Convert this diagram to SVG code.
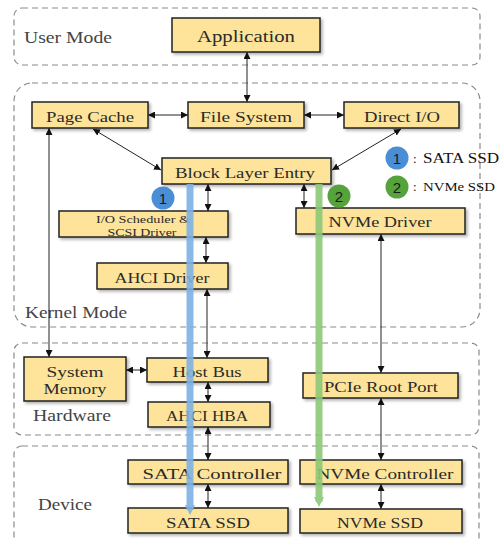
<svg xmlns="http://www.w3.org/2000/svg" width="499" height="539" viewBox="0 0 499 539">
  <style>
    .region { fill: none; stroke: #8a8a8a; stroke-width: 1.2; stroke-dasharray: 6 4; }
    .box { fill: #fde49a; stroke: #222; stroke-width: 1.5; filter: url(#shadow); }
    .lbl { font-family: "Liberation Serif", "DejaVu Serif", serif; fill: #2a2a2a; text-anchor: middle; }
    .rlbl { font-family: "Liberation Serif", "DejaVu Serif", serif; fill: #444; }
    .conn { stroke: #222; stroke-width: 1; fill: none; marker-start: url(#ah); marker-end: url(#ah); }
    .path1 { stroke: #7fb2e5; stroke-width: 7; opacity: 0.9; fill: none; }
    .path2 { stroke: #8dc878; stroke-width: 7; opacity: 0.9; fill: none; }
    .num { font-family: "Liberation Sans", Arial, sans-serif; font-size: 15px; fill: #1a1a1a; text-anchor: middle; }
    .leg { font-family: "Liberation Serif", "DejaVu Serif", serif; fill: #111; }
  </style>
  <defs>
    <filter id="shadow" x="-10%" y="-20%" width="130%" height="160%">
      <feDropShadow dx="2" dy="2" stdDeviation="1.5" flood-color="#000" flood-opacity="0.3"/>
    </filter>
    <marker id="ah" viewBox="0 0 10 10" refX="10" refY="5" markerWidth="7" markerHeight="7" markerUnits="userSpaceOnUse" orient="auto-start-reverse">
      <path d="M0,0 L10,5 L0,10 z" fill="#111"/>
    </marker>
    <marker id="ahBlue" viewBox="0 0 10 10" refX="5" refY="5" markerWidth="10" markerHeight="10" markerUnits="userSpaceOnUse" orient="auto">
      <path d="M0,0 L10,5 L0,10 z" fill="#7fb2e5"/>
    </marker>
    <marker id="ahGreen" viewBox="0 0 10 10" refX="5" refY="5" markerWidth="10" markerHeight="10" markerUnits="userSpaceOnUse" orient="auto">
      <path d="M0,0 L10,5 L0,10 z" fill="#8dc878"/>
    </marker>
  </defs>

  <rect width="499" height="539" fill="#fff"/>

  <!-- layer regions -->
  <g id="regions">
    <rect class="region" x="14" y="8" width="466" height="57" rx="8"/>
    <text class="rlbl" x="24" y="43" font-size="16" textLength="88" lengthAdjust="spacingAndGlyphs">User Mode</text>
    <rect class="region" x="14" y="83" width="466" height="244" rx="18"/>
    <text class="rlbl" x="25" y="318" font-size="16" textLength="102" lengthAdjust="spacingAndGlyphs">Kernel Mode</text>
    <rect class="region" x="14" y="343" width="465" height="92" rx="8"/>
    <text class="rlbl" x="33" y="421" font-size="16" textLength="78" lengthAdjust="spacingAndGlyphs">Hardware</text>
    <rect class="region" x="14" y="446" width="465" height="100" rx="8"/>
    <text class="rlbl" x="38" y="510" font-size="16" textLength="54" lengthAdjust="spacingAndGlyphs">Device</text>
  </g>

  <!-- connectors -->
  <g id="connectors">
    <line class="conn" x1="247" y1="52" x2="247" y2="102"/>
    <line class="conn" x1="148" y1="115" x2="188" y2="115"/>
    <line class="conn" x1="304" y1="115" x2="344" y2="115"/>
    <line class="conn" x1="93" y1="129" x2="161" y2="170"/>
    <line class="conn" x1="401" y1="129" x2="332" y2="170"/>
    <line class="conn" x1="49" y1="128" x2="49" y2="357"/>
    <line class="conn" x1="208" y1="184" x2="208" y2="211"/>
    <line class="conn" x1="206" y1="237" x2="206" y2="263"/>
    <line class="conn" x1="207" y1="289" x2="207" y2="358"/>
    <line class="conn" x1="304" y1="184" x2="304" y2="208"/>
    <line class="conn" x1="381" y1="234" x2="381" y2="373"/>
    <line class="conn" x1="126" y1="370" x2="147" y2="370"/>
    <line class="conn" x1="208" y1="382" x2="208" y2="402"/>
    <line class="conn" x1="208" y1="427" x2="208" y2="460"/>
    <line class="conn" x1="208" y1="484" x2="208" y2="508"/>
    <line class="conn" x1="381" y1="398" x2="381" y2="460"/>
    <line class="conn" x1="381" y1="484" x2="381" y2="509"/>
  </g>

  <!-- nodes -->
  <g id="application">
    <rect class="box" x="172" y="18" width="148" height="34"/>
    <text class="lbl" x="246" y="42" font-size="17" textLength="98" lengthAdjust="spacingAndGlyphs">Application</text>
  </g>
  <g id="page-cache">
    <rect class="box" x="32" y="102" width="116" height="26"/>
    <text class="lbl" x="90" y="122" font-size="15" textLength="88" lengthAdjust="spacingAndGlyphs">Page Cache</text>
  </g>
  <g id="file-system">
    <rect class="box" x="188" y="102" width="116" height="26"/>
    <text class="lbl" x="246" y="122" font-size="15" textLength="92" lengthAdjust="spacingAndGlyphs">File System</text>
  </g>
  <g id="direct-io">
    <rect class="box" x="344" y="102" width="115" height="26"/>
    <text class="lbl" x="402" y="122" font-size="15" textLength="76" lengthAdjust="spacingAndGlyphs">Direct I/O</text>
  </g>
  <g id="block-layer-entry">
    <rect class="box" x="162" y="158" width="169" height="26"/>
    <text class="lbl" x="245" y="178" font-size="15" textLength="140" lengthAdjust="spacingAndGlyphs">Block Layer Entry</text>
  </g>
  <g id="io-scheduler">
    <rect class="box" x="59" y="211" width="169" height="26"/>
    <text class="lbl" x="143" y="223" font-size="11" textLength="94" lengthAdjust="spacingAndGlyphs">I/O Scheduler &amp;</text>
    <text class="lbl" x="142" y="236" font-size="11" textLength="69" lengthAdjust="spacingAndGlyphs">SCSI Driver</text>
  </g>
  <g id="ahci-driver">
    <rect class="box" x="97" y="263" width="131" height="26"/>
    <text class="lbl" x="162" y="283" font-size="15" textLength="95" lengthAdjust="spacingAndGlyphs">AHCI Driver</text>
  </g>
  <g id="nvme-driver">
    <rect class="box" x="296" y="208" width="169" height="26"/>
    <text class="lbl" x="380" y="227" font-size="15" textLength="103" lengthAdjust="spacingAndGlyphs">NVMe Driver</text>
  </g>
  <g id="system-memory">
    <rect class="box" x="24" y="357" width="102" height="44"/>
    <text class="lbl" x="75" y="377" font-size="15" textLength="57" lengthAdjust="spacingAndGlyphs">System</text>
    <text class="lbl" x="75" y="394" font-size="15" textLength="63" lengthAdjust="spacingAndGlyphs">Memory</text>
  </g>
  <g id="host-bus">
    <rect class="box" x="147" y="358" width="121" height="24"/>
    <text class="lbl" x="207" y="377" font-size="15" textLength="69" lengthAdjust="spacingAndGlyphs">Host Bus</text>
  </g>
  <g id="ahci-hba">
    <rect class="box" x="148" y="402" width="122" height="25"/>
    <text class="lbl" x="207" y="421" font-size="15" textLength="82" lengthAdjust="spacingAndGlyphs">AHCI HBA</text>
  </g>
  <g id="pcie-root-port">
    <rect class="box" x="303" y="373" width="155" height="25"/>
    <text class="lbl" x="381" y="392" font-size="15" textLength="114" lengthAdjust="spacingAndGlyphs">PCIe Root Port</text>
  </g>
  <g id="sata-controller">
    <rect class="box" x="128" y="460" width="160" height="24"/>
    <text class="lbl" x="212" y="479" font-size="15" textLength="139" lengthAdjust="spacingAndGlyphs">SATA Controller</text>
  </g>
  <g id="sata-ssd">
    <rect class="box" x="128" y="508" width="160" height="25"/>
    <text class="lbl" x="208" y="528" font-size="15" textLength="84" lengthAdjust="spacingAndGlyphs">SATA SSD</text>
  </g>
  <g id="nvme-controller">
    <rect class="box" x="300" y="460" width="162" height="24"/>
    <text class="lbl" x="385" y="479" font-size="15" textLength="137" lengthAdjust="spacingAndGlyphs">NVMe Controller</text>
  </g>
  <g id="nvme-ssd">
    <rect class="box" x="300" y="509" width="162" height="24"/>
    <text class="lbl" x="380" y="528" font-size="15" textLength="86" lengthAdjust="spacingAndGlyphs">NVMe SSD</text>
  </g>

  <!-- I/O paths -->
  <g id="paths">
    <line class="path1" x1="190" y1="184" x2="190" y2="510" marker-end="url(#ahBlue)"/>
    <line class="path2" x1="319" y1="184" x2="319" y2="502" marker-end="url(#ahGreen)"/>
    <circle cx="163" cy="198" r="11.5" fill="#4a8fd6"/>
    <text class="num" x="163" y="203.5">1</text>
    <circle cx="339" cy="196" r="11.5" fill="#56a33c"/>
    <text class="num" x="339" y="201.5">2</text>
  </g>

  <!-- legend -->
  <g id="legend">
    <circle cx="397" cy="158" r="11.5" fill="#4a8fd6"/>
    <text class="num" x="397" y="163.5">1</text>
    <text class="leg" x="413" y="163" font-size="13">:</text>
    <text class="leg" x="423" y="163" font-size="14" textLength="76" lengthAdjust="spacingAndGlyphs">SATA SSD</text>
    <circle cx="397" cy="187" r="11.5" fill="#56a33c"/>
    <text class="num" x="397" y="192.5">2</text>
    <text class="leg" x="413" y="191" font-size="13">:</text>
    <text class="leg" x="423" y="191" font-size="12" textLength="72" lengthAdjust="spacingAndGlyphs">NVMe SSD</text>
  </g>
</svg>
